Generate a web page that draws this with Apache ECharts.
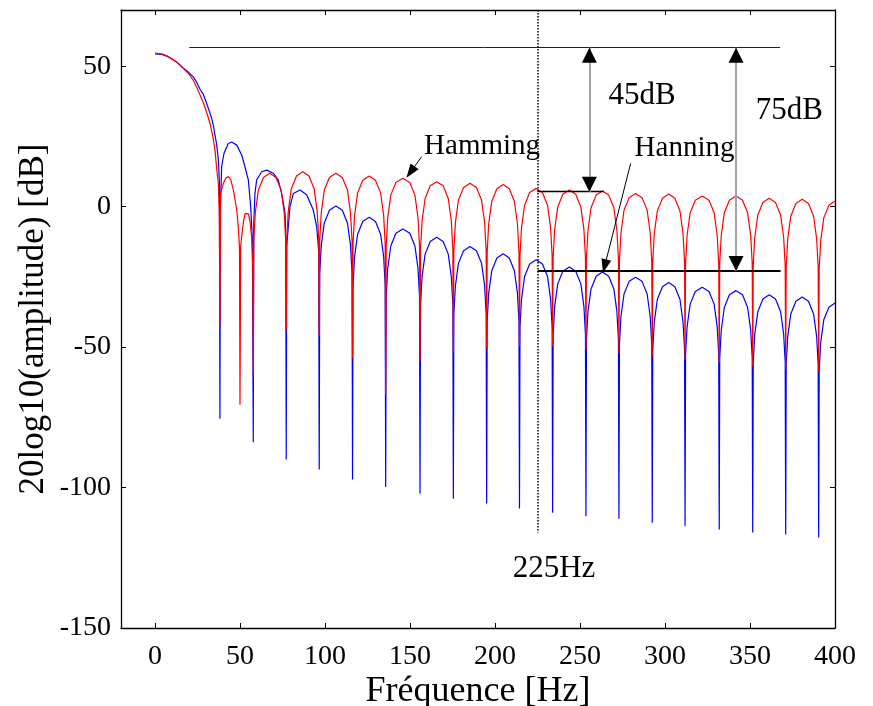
<!DOCTYPE html>
<html>
<head>
<meta charset="utf-8">
<title>Hamming / Hanning</title>
<script src="https://cdn.jsdelivr.net/npm/echarts@6/dist/echarts.min.js"></script>
<style>
  html, body { margin: 0; padding: 0; background: #fff; }
  #chart { width: 873px; height: 706px; }
</style>
</head>
<body>
<div id="chart"></div>
<script>
// Tick labels
const freqTicks = [0, 50, 100, 150, 200, 250, 300, 350, 400];
const dbTicks = [-150, -100, -50, 0, 50];

// Hamming window spectrum, [frequency Hz, level dB]
const hammingMainLobe = [
  [0, 54.7], [4, 54.4], [8, 53.4], [12.7, 51.5], [16.6, 49.2], [19.6, 47.5], [22.5, 45.0],
  [24.5, 42.6], [26.5, 39.7], [28.4, 37.0], [30.4, 33.5], [32.4, 29.6], [34.3, 24.0],
  [35.3, 20.1], [36.3, 13.5], [37.3, 8.0], [37.8, -2.0], [38.2, -42.6]
];
const hammingSideLobes = [
  [38.6, 4.7], [40.2, 8.3], [41.5, 10.0], [43.1, 10.7], [44.6, 9.5], [46.1, 5.9], [48.1, -1.2], [49.0, -7.1], [49.7, -14.8], [50.0, -70.5],
  [50.4, -14.0], [51.0, -10.7], [51.9, -5.9], [53.0, -2.5], [53.9, -1.8], [55.0, -2.6], [55.9, -5.3], [56.9, -11.2], [57.5, -22.0], [57.8, -59.8],
  [58.1, -12.1], [59.0, -2.1], [60.8, 5.9], [63.8, 10.4], [67.5, 11.9], [71.2, 10.4], [74.2, 5.9], [76.0, -2.1], [76.9, -12.1], [77.2, -44.2],
  [77.5, -11.6], [78.4, -1.6], [80.2, 6.4], [83.2, 10.9], [86.9, 12.4], [90.6, 10.9], [93.6, 6.4], [95.4, -1.6], [96.3, -11.6], [96.6, -46.0],
  [96.9, -12.1], [97.8, -2.1], [99.6, 5.9], [102.6, 10.4], [106.4, 11.9], [110.2, 10.4], [113.2, 5.9], [115.0, -2.1], [115.9, -12.1], [116.2, -54.1],
  [116.5, -13.1], [117.4, -3.1], [119.2, 4.9], [122.2, 9.4], [126.0, 10.9], [129.7, 9.4], [132.7, 4.9], [134.5, -3.1], [135.4, -13.1], [135.7, -66.9],
  [136.0, -13.9], [136.9, -3.9], [138.7, 4.1], [141.7, 8.6], [145.8, 10.1], [149.9, 8.6], [152.9, 4.1], [154.7, -3.9], [155.6, -13.9], [155.9, -55.0],
  [156.2, -15.1], [157.1, -5.1], [158.9, 2.9], [161.9, 7.4], [165.7, 8.9], [169.5, 7.4], [172.5, 2.9], [174.3, -5.1], [175.2, -15.1], [175.5, -52.1],
  [175.8, -15.7], [176.7, -5.7], [178.5, 2.3], [181.5, 6.8], [185.3, 8.3], [189.1, 6.8], [192.1, 2.3], [193.9, -5.7], [194.8, -15.7], [195.1, -50.6],
  [195.4, -16.1], [196.3, -6.1], [198.1, 1.9], [201.1, 6.4], [204.8, 7.9], [208.4, 6.4], [211.4, 1.9], [213.2, -6.1], [214.1, -16.1], [214.4, -49.7],
  [214.7, -17.5], [215.6, -7.5], [217.4, 0.5], [220.4, 5.0], [224.2, 6.5], [227.9, 5.0], [230.9, 0.5], [232.7, -7.5], [233.6, -17.5], [233.9, -49.7],
  [234.2, -18.1], [235.1, -8.1], [236.9, -0.1], [239.9, 4.4], [243.7, 5.9], [247.5, 4.4], [250.5, -0.1], [252.3, -8.1], [253.2, -18.1], [253.5, -50.9],
  [253.8, -18.4], [254.7, -8.4], [256.5, -0.4], [259.5, 4.1], [263.2, 5.6], [266.9, 4.1], [269.9, -0.4], [271.7, -8.4], [272.6, -18.4], [272.9, -52.1],
  [273.2, -19.3], [274.1, -9.3], [275.9, -1.3], [278.9, 3.2], [282.7, 4.7], [286.5, 3.2], [289.5, -1.3], [291.3, -9.3], [292.2, -19.3], [292.5, -53.3],
  [292.8, -19.5], [293.7, -9.5], [295.5, -1.5], [298.5, 3.0], [302.2, 4.5], [305.8, 3.0], [308.8, -1.5], [310.6, -9.5], [311.5, -19.5], [311.8, -54.5],
  [312.1, -20.2], [313.0, -10.2], [314.8, -2.2], [317.8, 2.3], [321.9, 3.8], [325.9, 2.3], [328.9, -2.2], [330.7, -10.2], [331.6, -20.2], [331.9, -55.7],
  [332.2, -20.2], [333.1, -10.2], [334.9, -2.2], [337.9, 2.3], [341.8, 3.8], [345.6, 2.3], [348.6, -2.2], [350.4, -10.2], [351.3, -20.2], [351.6, -56.9],
  [351.9, -21.0], [352.8, -11.0], [354.6, -3.0], [357.6, 1.5], [361.3, 3.0], [365.0, 1.5], [368.0, -3.0], [369.8, -11.0], [370.7, -21.0], [371.0, -58.0],
  [371.3, -21.4], [372.2, -11.4], [374.0, -3.4], [377.0, 1.1], [380.7, 2.6], [384.4, 1.1], [387.4, -3.4], [389.2, -11.4], [390.1, -21.4], [390.4, -58.6],
  [390.7, -22.0], [391.6, -12.0], [393.4, -4.0], [396.4, 0.5], [400.0, 2.0]
];

// Hanning window spectrum, [frequency Hz, level dB]
const hanningMainLobe = [
  [0, 54.4], [4, 54.2], [8, 53.3], [12.7, 51.5], [16.6, 49.4], [19.6, 47.9], [22.5, 46.2],
  [24.5, 44.3], [26.5, 41.8], [28.4, 40.0], [30.4, 36.7], [32.4, 33.2], [33.3, 31.5],
  [34.3, 29.0], [35.3, 25.5], [36.3, 22.0], [37.3, 16.6], [37.9, 8.3], [38.2, -75.5]
];
const hanningSideLobes = [
  [38.5, 0.0], [39.2, 14.2], [40.6, 19.0], [43.1, 22.5], [45.1, 23.0], [48.1, 21.9], [51.0, 18.4], [52.9, 14.2], [54.9, 9.5], [56.3, 0.0], [57.3, -12.0], [57.8, -83.9],
  [58.1, -6.0], [58.8, 4.7], [59.8, 9.5], [62.7, 12.4], [65.7, 13.0], [69.6, 11.9], [72.5, 9.5], [74.5, 4.7], [76.5, -2.3], [76.9, -10.0], [77.2, -90.0],
  [77.5, -14.0], [79.4, 0.0], [81.4, 4.7], [85.3, 5.9], [89.2, 4.2], [93.1, -1.2], [95.1, -7.1], [96.3, -16.0], [96.6, -93.6],
  [96.9, -23.8], [97.8, -13.8], [99.6, -5.8], [102.6, -1.3], [106.4, 0.2], [110.2, -1.3], [113.2, -5.8], [115.0, -13.8], [115.9, -23.8], [116.2, -97.1],
  [116.5, -27.8], [117.4, -17.8], [119.2, -9.8], [122.2, -5.3], [126.0, -3.8], [129.7, -5.3], [132.7, -9.8], [134.5, -17.8], [135.4, -27.8], [135.7, -99.8],
  [136.0, -32.0], [136.9, -22.0], [138.7, -14.0], [141.7, -9.5], [145.8, -8.0], [149.9, -9.5], [152.9, -14.0], [154.7, -22.0], [155.6, -32.0], [155.9, -102.2],
  [156.2, -34.9], [157.1, -24.9], [158.9, -16.9], [161.9, -12.4], [165.7, -10.9], [169.5, -12.4], [172.5, -16.9], [174.3, -24.9], [175.2, -34.9], [175.5, -104.0],
  [175.8, -38.2], [176.7, -28.2], [178.5, -20.2], [181.5, -15.7], [185.3, -14.2], [189.1, -15.7], [192.1, -20.2], [193.9, -28.2], [194.8, -38.2], [195.1, -105.7],
  [195.4, -40.8], [196.3, -30.8], [198.1, -22.8], [201.1, -18.3], [204.8, -16.8], [208.4, -18.3], [211.4, -22.8], [213.2, -30.8], [214.1, -40.8], [214.4, -107.5],
  [214.7, -42.9], [215.6, -32.9], [217.4, -24.9], [220.4, -20.4], [224.2, -18.9], [227.9, -20.4], [230.9, -24.9], [232.7, -32.9], [233.6, -42.9], [233.9, -109.0],
  [234.2, -45.5], [235.1, -35.5], [236.9, -27.5], [239.9, -23.0], [243.7, -21.5], [247.5, -23.0], [250.5, -27.5], [252.3, -35.5], [253.2, -45.5], [253.5, -110.2],
  [253.8, -47.3], [254.7, -37.3], [256.5, -29.3], [259.5, -24.8], [263.2, -23.3], [266.9, -24.8], [269.9, -29.3], [271.7, -37.3], [272.6, -47.3], [272.9, -111.1],
  [273.2, -49.1], [274.1, -39.1], [275.9, -31.1], [278.9, -26.6], [282.7, -25.1], [286.5, -26.6], [289.5, -31.1], [291.3, -39.1], [292.2, -49.1], [292.5, -112.5],
  [292.8, -51.0], [293.7, -41.0], [295.5, -33.0], [298.5, -28.5], [302.2, -27.0], [305.8, -28.5], [308.8, -33.0], [310.6, -41.0], [311.5, -51.0], [311.8, -113.7],
  [312.1, -52.7], [313.0, -42.7], [314.8, -34.7], [317.8, -30.2], [321.9, -28.7], [325.9, -30.2], [328.9, -34.7], [330.7, -42.7], [331.6, -52.7], [331.9, -114.9],
  [332.2, -53.9], [333.1, -43.9], [334.9, -35.9], [337.9, -31.4], [341.8, -29.9], [345.6, -31.4], [348.6, -35.9], [350.4, -43.9], [351.3, -53.9], [351.6, -116.0],
  [351.9, -55.4], [352.8, -45.4], [354.6, -37.4], [357.6, -32.9], [361.3, -31.4], [365.0, -32.9], [368.0, -37.4], [369.8, -45.4], [370.7, -55.4], [371.0, -116.7],
  [371.3, -56.2], [372.2, -46.2], [374.0, -38.2], [377.0, -33.7], [380.7, -32.2], [384.4, -33.7], [387.4, -38.2], [389.2, -46.2], [390.1, -56.2], [390.4, -117.8],
  [390.7, -58.3], [391.6, -48.3], [393.4, -40.3], [396.4, -35.8], [400.0, -34.3]
];

// Annotation values
const markerFreq = 225;          // dotted marker, Hz
const referenceLevel = 56.6;     // top reference line, dB
const hammingSideLevel = 5.3;    // Hamming sidelobe level, dB
const hanningSideLevel = -22.9;  // Hanning sidelobe level, dB

const FONT = 'Liberation Serif';
const chart = echarts.init(document.getElementById('chart'), null, { renderer: 'canvas' });

const black = '#000';
const gray = '#a4a4a4';

function seg(x1, y1, x2, y2, style, endSymbol, endSize) {
  return [
    { coord: [x1, y1], symbol: 'none', lineStyle: style },
    { coord: [x2, y2], symbol: endSymbol || 'none', symbolSize: endSize || 0, lineStyle: style }
  ];
}

function text(name, x, y, size) {
  return {
    name: name, coord: [x, y], symbol: 'circle', symbolSize: 1,
    itemStyle: { color: 'rgba(0,0,0,0)' },
    label: { show: true, position: 'inside', formatter: '{b}', color: black, fontFamily: FONT, fontSize: size }
  };
}

const headSize = [15, 15];
const thin = { color: black, width: 1, type: 'solid' };

const annotationLines = [
  // marker frequency
  seg(markerFreq, 70, markerFreq, -116, { color: black, width: 1.5, type: [1.5, 1.5] }),
  // reference and sidelobe levels
  seg(20.2, referenceLevel, 367.6, referenceLevel, { color: '#222', width: 1, type: 'solid' }),
  seg(markerFreq, hammingSideLevel, 264, hammingSideLevel, { color: black, width: 1.3, type: 'solid' }),
  seg(markerFreq, hanningSideLevel, 368, hanningSideLevel, { color: black, width: 2, type: 'solid' }),
  // dimension shafts
  seg(255.5, referenceLevel, 255.5, hammingSideLevel, { color: gray, width: 2, type: 'solid' }),
  seg(341.8, referenceLevel, 341.8, hanningSideLevel, { color: gray, width: 2, type: 'solid' }),
  // dimension arrow heads
  seg(255.5, referenceLevel - 4.5, 255.5, referenceLevel - 2.7, thin, 'triangle', headSize),
  seg(255.5, hammingSideLevel + 4.5, 255.5, hammingSideLevel + 2.7, thin, 'triangle', headSize),
  seg(341.8, referenceLevel - 4.5, 341.8, referenceLevel - 2.7, thin, 'triangle', headSize),
  seg(341.8, hanningSideLevel + 4.5, 341.8, hanningSideLevel + 2.7, thin, 'triangle', headSize),
  // label pointers
  seg(156.9, 17.8, 150.3, 12.3, thin, 'triangle', [10, 14]),
  seg(279.8, 15.4, 264.5, -21.2, thin, 'triangle', [10, 14])
];

const annotationTexts = [
  text('Hamming', 192.4, 21.5, 29),
  text('Hanning', 311.5, 20.7, 29),
  text('45dB', 286.5, 39.5, 31),
  text('75dB', 373.1, 34.1, 31),
  text('225Hz', 234.7, -128.9, 31)
];

const axisLineStyle = { color: black, width: 1.3 };

const option = {
  animation: false,
  backgroundColor: '#fff',
  textStyle: { fontFamily: FONT },
  grid: { left: 121, right: 38, top: 10, bottom: 78, containLabel: false, outerBoundsMode: 'none' },
  xAxis: [
    {
      type: 'value', min: -20, max: 400, position: 'bottom',
      name: 'Fréquence [Hz]', nameLocation: 'middle', nameGap: 46, nameMoveOverlap: false,
      nameTextStyle: { fontFamily: FONT, fontSize: 36, color: black },
      axisLine: { show: true, onZero: false, lineStyle: axisLineStyle },
      axisTick: { show: true, inside: true, length: 5, customValues: freqTicks, lineStyle: { color: black } },
      axisLabel: { show: true, customValues: freqTicks, fontFamily: FONT, fontSize: 28, color: black, margin: 15 },
      splitLine: { show: false }
    },
    {
      type: 'value', min: -20, max: 400, position: 'top',
      axisLine: { show: true, onZero: false, lineStyle: axisLineStyle },
      axisTick: { show: true, inside: true, length: 5, customValues: freqTicks, lineStyle: { color: black } },
      axisLabel: { show: false },
      splitLine: { show: false }
    }
  ],
  yAxis: [
    {
      type: 'value', min: -150, max: 70, position: 'left',
      name: '20log10(amplitude) [dB]', nameLocation: 'middle', nameGap: 70, nameMoveOverlap: false,
      nameTextStyle: { fontFamily: FONT, fontSize: 35, color: black },
      axisLine: { show: true, onZero: false, lineStyle: axisLineStyle },
      axisTick: { show: true, inside: true, length: 5, customValues: dbTicks, lineStyle: { color: black } },
      axisLabel: { show: true, customValues: dbTicks, fontFamily: FONT, fontSize: 28, color: black, margin: 10 },
      splitLine: { show: false }
    },
    {
      type: 'value', min: -150, max: 70, position: 'right',
      axisLine: { show: true, onZero: false, lineStyle: axisLineStyle },
      axisTick: { show: true, inside: true, length: 5, customValues: dbTicks, lineStyle: { color: black } },
      axisLabel: { show: false },
      splitLine: { show: false }
    }
  ],
  series: [
    {
      name: 'Hanning', type: 'line', xAxisIndex: 0, yAxisIndex: 0,
      data: hanningMainLobe.concat(hanningSideLobes),
      showSymbol: false, symbol: 'none', clip: true,
      lineStyle: { color: '#0000ff', width: 1.2 },
      z: 2
    },
    {
      name: 'Hamming', type: 'line', xAxisIndex: 0, yAxisIndex: 0,
      data: hammingMainLobe.concat(hammingSideLobes),
      showSymbol: false, symbol: 'none', clip: true,
      lineStyle: { color: '#ff0000', width: 1.2 },
      z: 3,
      markLine: {
        silent: true, animation: false,
        symbol: ['none', 'none'],
        label: { show: false },
        emphasis: { disabled: true },
        data: annotationLines
      },
      markPoint: {
        silent: true, animation: false,
        data: annotationTexts
      }
    }
  ]
};

chart.setOption(option);
</script>
</body>
</html>
